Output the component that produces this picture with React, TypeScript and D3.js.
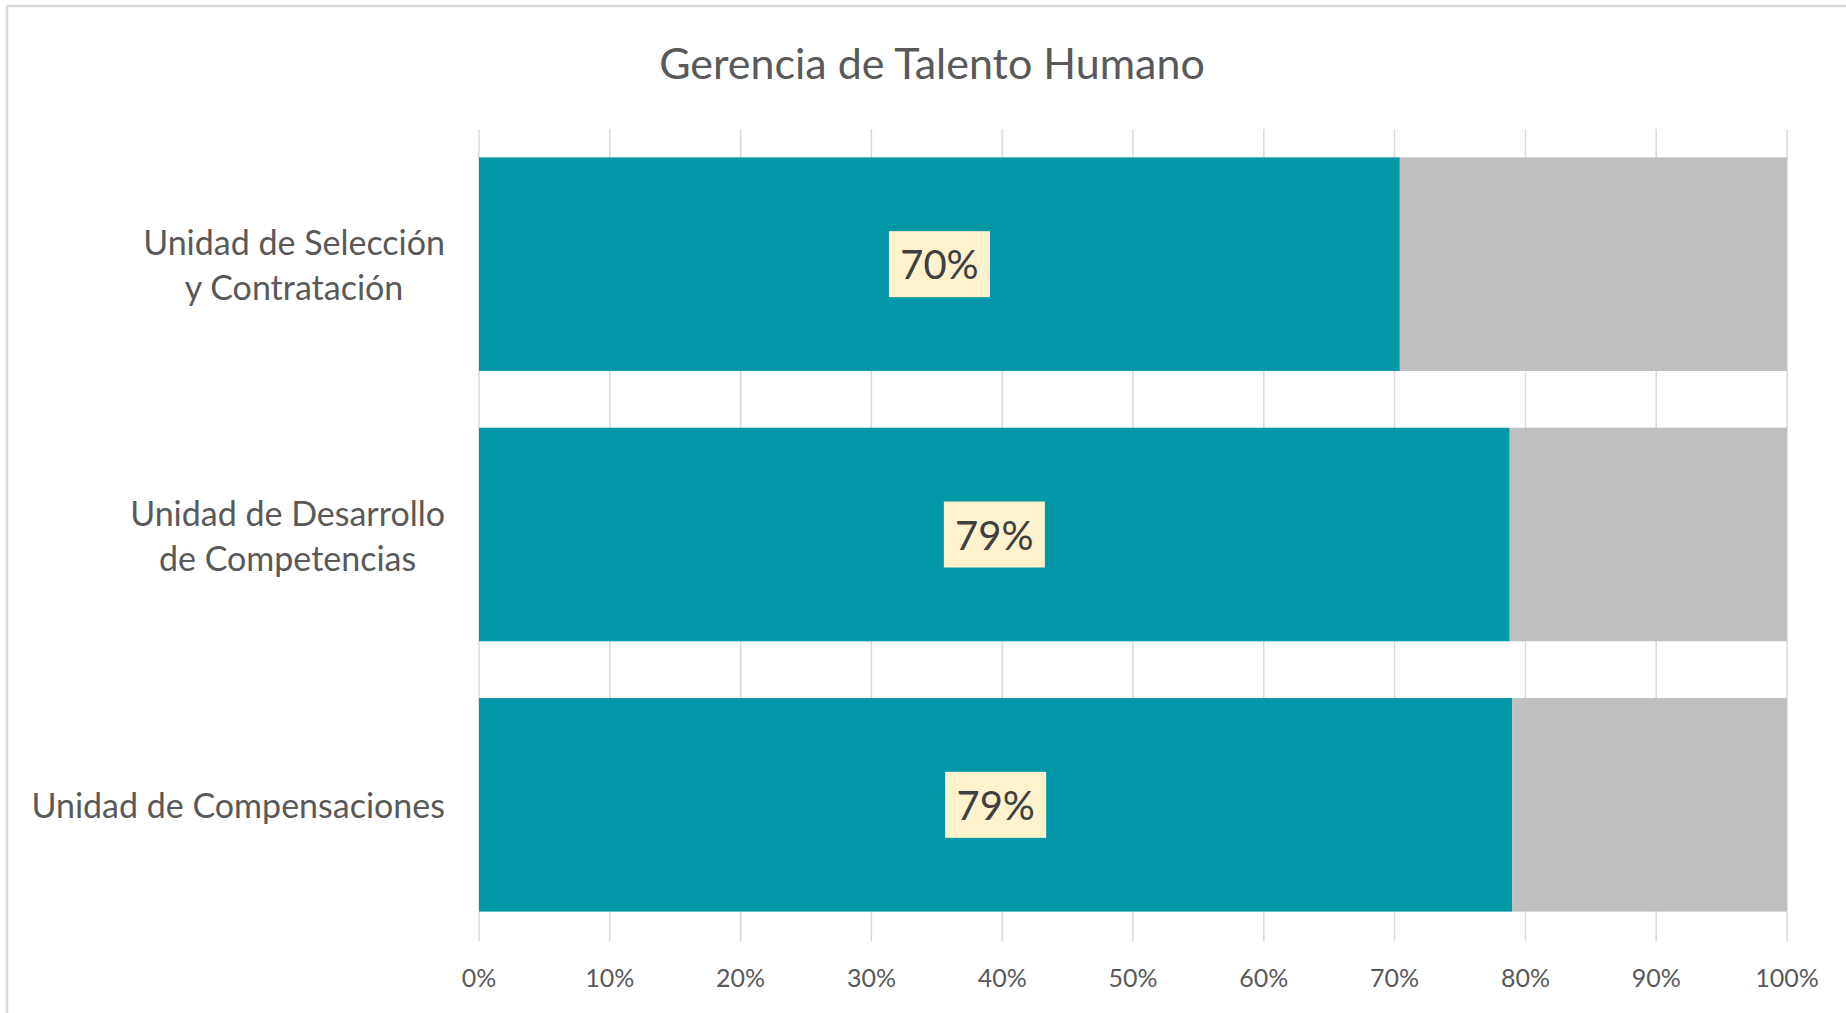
import * as d3 from "d3";
import { useEffect, useRef } from "react";

const title = "Gerencia de Talento Humano";
const categories = [
  ["Unidad de Selección", "y Contratación"],
  ["Unidad de Desarrollo", "de Competencias"],
  ["Unidad de Compensaciones"],
];
const achieved = [0.704, 0.788, 0.79];
const remaining = achieved.map((v) => 1 - v);
const tickValues = [0, 0.1, 0.2, 0.3, 0.4, 0.5, 0.6, 0.7, 0.8, 0.9, 1];

const App = () => {
  const ref = useRef<SVGSVGElement>(null);

  useEffect(() => {
    const svg = d3.select(ref.current);
    svg.selectAll("*").remove();
    const width = 1846;
    const height = 1013;
    const font = "Lato, 'Open Sans', sans-serif";
    const textColor = "#595959";

    const x = d3.scaleLinear().domain([0, 1]).range([479, 1787]);
    const y = d3
      .scaleBand()
      .domain(categories.map((_, i) => String(i)))
      .range([129, 940])
      .paddingInner(0.21)
      .paddingOuter(0.105);

    svg.attr("viewBox", [0, 0, width, height]);

    // frame
    svg
      .append("rect")
      .attr("x", 7)
      .attr("y", 6)
      .attr("width", 1900)
      .attr("height", 1100)
      .attr("fill", "#fff")
      .attr("stroke", "#d9d9d9")
      .attr("stroke-width", 2.5);

    // title
    svg
      .append("text")
      .attr("x", 932)
      .attr("y", 62)
      .attr("text-anchor", "middle")
      .attr("dominant-baseline", "central")
      .attr("font-family", font)
      .attr("font-size", 43)
      .attr("fill", textColor)
      .text(title);

    // gridlines
    svg
      .append("g")
      .selectAll("line")
      .data(tickValues)
      .join("line")
      .attr("x1", (d) => x(d))
      .attr("x2", (d) => x(d))
      .attr("y1", 129)
      .attr("y2", 941)
      .attr("stroke", "#d9d9d9")
      .attr("stroke-width", 1.5);

    const rows = categories.map((c, i) => ({
      key: String(i),
      lines: c,
      a: achieved[i],
      r: remaining[i],
    }));

    // achieved bars
    svg
      .append("g")
      .selectAll("rect")
      .data(rows)
      .join("rect")
      .attr("x", x(0))
      .attr("y", (d) => y(d.key)!)
      .attr("width", (d) => x(d.a) - x(0))
      .attr("height", y.bandwidth())
      .attr("fill", "#0097a6");

    // remaining bars
    svg
      .append("g")
      .selectAll("rect")
      .data(rows)
      .join("rect")
      .attr("x", (d) => x(d.a))
      .attr("y", (d) => y(d.key)!)
      .attr("width", (d) => x(d.a + d.r) - x(d.a))
      .attr("height", y.bandwidth())
      .attr("fill", "#bfbfbf");

    // data labels
    const labels = svg
      .append("g")
      .selectAll("g")
      .data(rows)
      .join("g")
      .attr(
        "transform",
        (d) => `translate(${(x(0) + x(d.a)) / 2},${y(d.key)! + y.bandwidth() / 2})`
      );
    labels
      .append("rect")
      .attr("x", -50.5)
      .attr("y", -33)
      .attr("width", 101)
      .attr("height", 66)
      .attr("fill", "#fff2cc");
    labels
      .append("text")
      .attr("text-anchor", "middle")
      .attr("dominant-baseline", "central")
      .attr("font-family", font)
      .attr("font-size", 40)
      .attr("fill", "#404040")
      .text((d) => `${Math.round(d.a * 100)}%`);

    // category labels: block right-aligned to the axis, lines centred in it
    const cat = svg
      .append("g")
      .selectAll("text")
      .data(rows)
      .join("text")
      .attr("font-family", font)
      .attr("font-size", 34)
      .attr("fill", textColor)
      .attr("text-anchor", "middle");
    cat.each(function (d) {
      const t = d3.select(this);
      const cy = y(d.key)! + y.bandwidth() / 2;
      const lh = 45;
      const spans = d.lines.map((line, j) =>
        t
          .append("tspan")
          .attr("x", 0)
          .attr("y", cy + (j - (d.lines.length - 1) / 2) * lh)
          .attr("dominant-baseline", "central")
          .text(line)
      );
      const w = d3.max(spans, (s) => (s.node() as SVGTSpanElement).getComputedTextLength()) || 0;
      spans.forEach((s) => s.attr("x", 445 - w / 2));
    });

    // x axis labels
    svg
      .append("g")
      .selectAll("text")
      .data(tickValues)
      .join("text")
      .attr("x", (d) => x(d))
      .attr("y", 977)
      .attr("text-anchor", "middle")
      .attr("dominant-baseline", "central")
      .attr("font-family", font)
      .attr("font-size", 25)
      .attr("fill", textColor)
      .text((d) => d3.format(".0%")(d));
  }, []);

  return (
    <svg
      ref={ref}
      width={1846}
      height={1013}
      style={{ position: "absolute", left: 0, top: 0, display: "block" }}
    />
  );
};

export default App;
